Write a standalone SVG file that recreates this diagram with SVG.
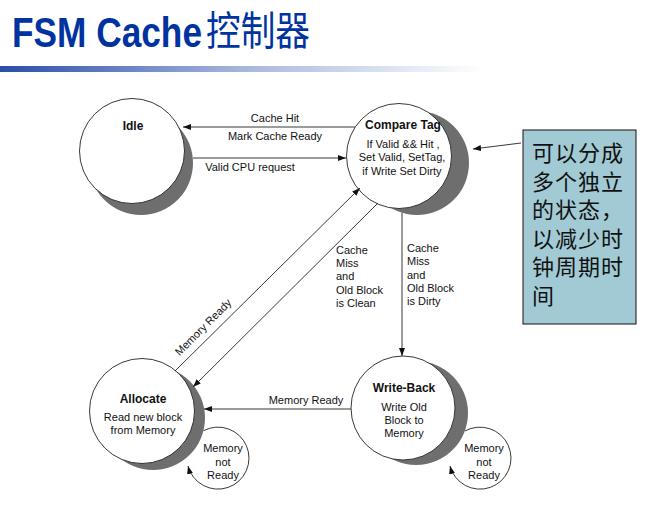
<svg xmlns="http://www.w3.org/2000/svg" width="652" height="506" viewBox="0 0 652 506">
<style>
.lbl{font-family:"Liberation Sans",Arial,sans-serif;font-size:11px;fill:#111}
.ttl{font-family:"Liberation Sans",Arial,sans-serif;font-size:12px;font-weight:bold;fill:#111;text-anchor:middle}
.mid{text-anchor:middle}
.node{fill:#fff;stroke:#222;stroke-width:0.9}
.shadow{fill:#6e6e6e}
.edge{fill:none;stroke:#222;stroke-width:0.9}
.cjk{font-family:"Noto Sans CJK SC",sans-serif;font-size:22px;letter-spacing:1px;fill:#111}
</style>
<defs>
<linearGradient id="bar" x1="0" y1="0" x2="1" y2="0">
<stop offset="0" stop-color="#2a4ea8"/>
<stop offset="0.5" stop-color="#a6b6dc"/>
<stop offset="1" stop-color="#ffffff"/>
</linearGradient>
<marker id="arr" markerUnits="userSpaceOnUse" markerWidth="8" markerHeight="6" refX="8" refY="3" orient="auto">
<path d="M0,0 L8,3 L0,6 z" fill="#111"/>
</marker>
</defs>
<rect width="652" height="506" fill="#fff"/>
<g id="title">
<text x="12" y="47" font-family="'Liberation Sans',Arial,sans-serif" font-size="43" font-weight="bold" fill="#0033a0" textLength="190" lengthAdjust="spacingAndGlyphs">FSM Cache</text>
<text x="206" y="45" font-family="'Noto Sans CJK SC',sans-serif" font-size="40" fill="#0033a0" textLength="104" lengthAdjust="spacingAndGlyphs">控制器</text>
<rect x="0" y="66" width="484" height="6" fill="url(#bar)"/>
</g>
<g id="idle">
<circle class="shadow" cx="141" cy="163" r="52"/>
<circle class="node" cx="132" cy="151" r="52.5"/>
<text class="ttl" x="133" y="130">Idle</text>
</g>
<g id="compare-tag">
<circle class="shadow" cx="417" cy="163" r="52"/>
<circle class="node" cx="399" cy="156" r="52.5"/>
<text class="ttl" x="403" y="129">Compare Tag</text>
<text class="lbl mid" x="403" y="147.5">If Valid &amp;&amp; Hit ,</text>
<text class="lbl mid" x="402" y="161">Set Valid, SetTag,</text>
<text class="lbl mid" x="402" y="174.5">if Write Set Dirty</text>
</g>
<g id="allocate">
<circle class="shadow" cx="153" cy="418" r="52"/>
<circle class="node" cx="142" cy="411" r="52.5"/>
<text class="ttl" x="143" y="403">Allocate</text>
<text class="lbl mid" x="143" y="421">Read new block</text>
<text class="lbl mid" x="143" y="434">from Memory</text>
</g>
<g id="write-back">
<circle class="shadow" cx="416" cy="413" r="52"/>
<circle class="node" cx="403" cy="408" r="52"/>
<text class="ttl" x="404" y="392">Write-Back</text>
<text class="lbl mid" x="404" y="411">Write Old</text>
<text class="lbl mid" x="404" y="424">Block to</text>
<text class="lbl mid" x="404" y="437">Memory</text>
</g>
<g id="note">
<rect x="523" y="130" width="113" height="194" fill="#a2cad4" stroke="#111" stroke-width="1"/>
<text class="cjk" x="532" y="161">可以分成</text>
<text class="cjk" x="532" y="189.6">多个独立</text>
<text class="cjk" x="532" y="218.2">的状态，</text>
<text class="cjk" x="532" y="246.8">以减少时</text>
<text class="cjk" x="532" y="275.4">钟周期时</text>
<text class="cjk" x="532" y="304">间</text>
</g>
<g id="connectors">
<line class="edge" x1="355" y1="127" x2="183" y2="127" marker-end="url(#arr)"/>
<text class="lbl mid" x="275" y="122">Cache Hit</text>
<text class="lbl mid" x="275" y="140">Mark Cache Ready</text>
<line class="edge" x1="193" y1="158" x2="346" y2="158" marker-end="url(#arr)"/>
<text class="lbl mid" x="250" y="171">Valid CPU request</text>
<line class="edge" x1="175" y1="371" x2="360" y2="188" marker-end="url(#arr)"/>
<text class="lbl mid" transform="translate(203,327) rotate(-45)" x="0" y="4">Memory Ready</text>
<line class="edge" x1="378" y1="203" x2="193" y2="387" marker-end="url(#arr)"/>
<text class="lbl" x="336" y="254">Cache</text>
<text class="lbl" x="336" y="267">Miss</text>
<text class="lbl" x="336" y="280">and</text>
<text class="lbl" x="336" y="294">Old Block</text>
<text class="lbl" x="336" y="307">is Clean</text>
<line class="edge" x1="402" y1="213" x2="402" y2="356" marker-end="url(#arr)"/>
<text class="lbl" x="407" y="252">Cache</text>
<text class="lbl" x="407" y="265">Miss</text>
<text class="lbl" x="407" y="279">and</text>
<text class="lbl" x="407" y="292">Old Block</text>
<text class="lbl" x="407" y="305">is Dirty</text>
<line class="edge" x1="351" y1="409" x2="204" y2="409" marker-end="url(#arr)"/>
<text class="lbl mid" x="306" y="404">Memory Ready</text>
<path class="edge" d="M203.5,430.7 A31,31 0 1 1 188,466" marker-end="url(#arr)"/>
<text class="lbl mid" x="223" y="452">Memory</text>
<text class="lbl mid" x="223" y="466">not</text>
<text class="lbl mid" x="223" y="479">Ready</text>
<path class="edge" d="M465,431 A31,31 0 1 1 450,466" marker-end="url(#arr)"/>
<text class="lbl mid" x="484" y="452">Memory</text>
<text class="lbl mid" x="484" y="466">not</text>
<text class="lbl mid" x="484" y="479">Ready</text>
<line class="edge" x1="521" y1="143" x2="473" y2="149" marker-end="url(#arr)"/>
</g>
</svg>
